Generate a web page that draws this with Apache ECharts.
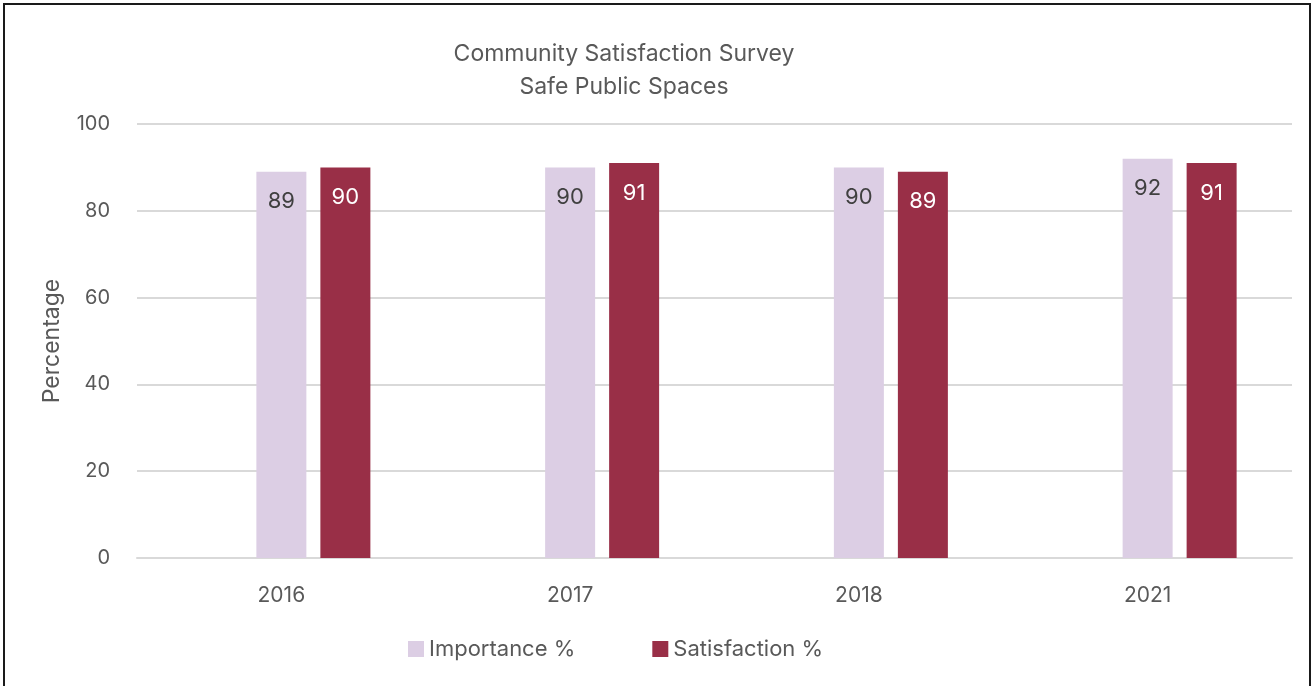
<!DOCTYPE html>
<html>
<head>
<meta charset="utf-8">
<script src="https://cdn.jsdelivr.net/npm/echarts@6/dist/echarts.min.js"></script>
<style>
  html, body { margin: 0; padding: 0; background: #fff; }
  #frame { position: absolute; left: 3px; top: 3px; width: 1308px; height: 700px;
           border: 2px solid #1a1a1a; box-sizing: border-box; }
  #chart { position: absolute; left: 0; top: 0; width: 1316px; height: 686px; }
</style>
</head>
<body>
<div id="frame"></div>
<div id="chart"></div>
<script>
const years = ['2016', '2017', '2018', '2021'];
const importance = [89, 90, 90, 92];
const satisfaction = [90, 91, 89, 91];
// an unused leading slot in each category; it keeps the Importance bar on the tick
const spacer = [null, null, null, null];
const yTicks = { min: 0, max: 100, interval: 20 };

const FONT = 'Inter, "Noto Sans", sans-serif';
const TEXT = '#595959';

const chart = echarts.init(document.getElementById('chart'), null, { renderer: 'canvas' });
chart.setOption({
  animation: false,
  title: {
    text: 'Community Satisfaction Survey\nSafe Public Spaces',
    left: 619, top: 33, textAlign: 'center',
    textStyle: { fontFamily: FONT, fontSize: 23, fontWeight: 'normal', color: TEXT, lineHeight: 33 }
  },
  legend: {
    bottom: 21, left: 403,
    itemWidth: 16, itemHeight: 16, itemGap: 77,
    icon: 'rect',
    textStyle: { fontFamily: FONT, fontSize: 22, color: TEXT },
    data: ['Importance %', 'Satisfaction %']
  },
  grid: { left: 137, right: 24, top: 124, bottom: 128 },
  xAxis: {
    type: 'category', data: years,
    axisLine: { show: true, lineStyle: { color: '#d9d9d9', width: 2 } },
    axisTick: { show: false },
    axisLabel: { fontFamily: FONT, fontSize: 21, color: TEXT, margin: 27 }
  },
  yAxis: {
    type: 'value', min: yTicks.min, max: yTicks.max, interval: yTicks.interval,
    name: 'Percentage', nameLocation: 'middle', nameGap: 73, nameRotate: 90,
    nameTextStyle: { fontFamily: FONT, fontSize: 23, color: TEXT },
    axisLine: { show: false }, axisTick: { show: false },
    axisLabel: { fontFamily: FONT, fontSize: 20, color: TEXT, margin: 27 },
    splitLine: { lineStyle: { color: '#d9d9d9', width: 2 } }
  },
  series: [
    {
      name: 'spacer', type: 'bar', data: spacer,
      barWidth: 50, barGap: '28%', silent: true
    },
    {
      name: 'Importance %', type: 'bar', data: importance,
      barWidth: 50, barGap: '28%',
      itemStyle: { color: '#dccee4' },
      label: { show: true, position: 'insideTop', distance: 19,
               fontFamily: FONT, fontSize: 22, color: '#404040' }
    },
    {
      name: 'Satisfaction %', type: 'bar', data: satisfaction,
      barWidth: 50,
      itemStyle: { color: '#992f47' },
      label: { show: true, position: 'insideTop', distance: 19,
               fontFamily: FONT, fontSize: 22, color: '#ffffff' }
    }
  ]
});
</script>
</body>
</html>
